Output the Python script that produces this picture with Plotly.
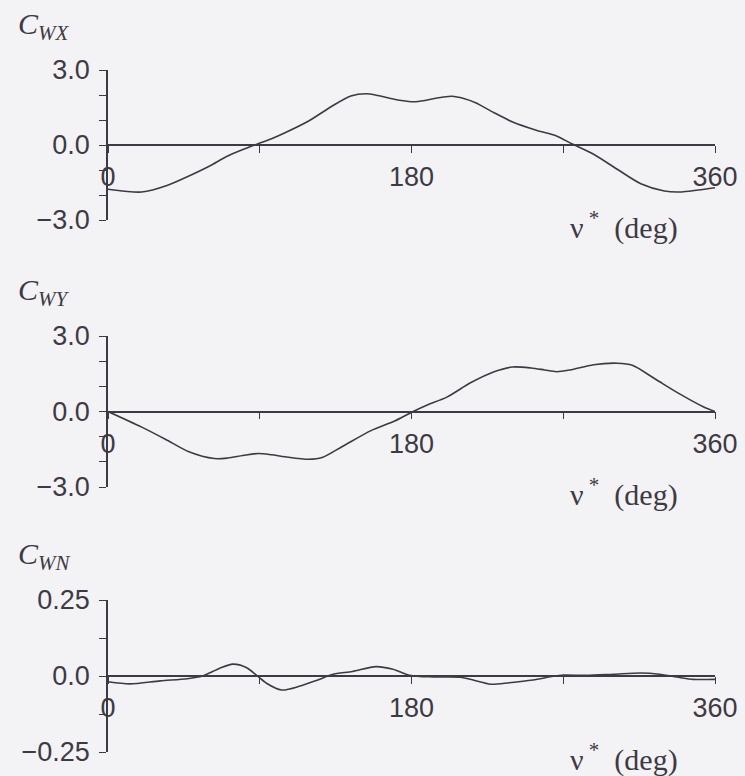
import plotly.graph_objects as go

# ---------------- data ----------------
deg_wx = [0, 10, 20, 35, 48, 60, 71, 80, 89, 97, 105, 119, 133, 144, 153, 160, 167, 174, 181,
          188, 195, 204, 211, 218, 229, 240, 254, 266, 275, 288, 302, 316, 330, 339, 350, 360]
c_wx = [-1.77, -1.85, -1.88, -1.62, -1.24, -0.85, -0.44, -0.18, 0.05, 0.25, 0.49, 0.96, 1.56, 1.96,
        2.05, 1.98, 1.87, 1.78, 1.73, 1.78, 1.88, 1.95, 1.86, 1.69, 1.29, 0.92, 0.59, 0.36, 0.05,
        -0.37, -0.97, -1.55, -1.84, -1.88, -1.80, -1.71]

deg_wy = [0, 20, 34, 48, 63, 71, 80, 89, 97, 105, 119, 127, 139, 156, 170, 181, 189, 201, 215,
          229, 240, 251, 259, 266, 274, 288, 302, 311, 325, 339, 353, 360]
c_wy = [0.0, -0.62, -1.1, -1.6, -1.87, -1.85, -1.75, -1.67, -1.72, -1.80, -1.90, -1.83, -1.39,
        -0.76, -0.38, 0.0, 0.25, 0.57, 1.14, 1.58, 1.77, 1.73, 1.65, 1.58, 1.65, 1.86, 1.92, 1.84,
        1.27, 0.70, 0.19, 0.0]

deg_wn = [0, 13, 31, 47, 56, 66, 74, 82, 88, 94, 103, 114, 124, 133, 145, 159, 169, 179, 193,
          209, 217, 227, 238, 252, 264, 270, 284, 300, 316, 327, 339, 347, 360]
c_wn = [-0.019, -0.026, -0.016, -0.009, 0.0, 0.025, 0.039, 0.028, 0.003, -0.024, -0.046, -0.033,
        -0.014, 0.005, 0.015, 0.031, 0.022, 0.002, -0.003, -0.004, -0.014, -0.027, -0.022, -0.013,
        -0.001, 0.003, 0.002, 0.006, 0.010, 0.006, -0.005, -0.011, -0.011]

x_tickvals = [0, 180, 360]
x_ticktext = ["0", "180", "360"]
y_ticks_big = [-3, 0, 3]
y_text_big = ["\u22123.0", "0.0", "3.0"]
y_ticks_small = [-0.25, 0, 0.25]
y_text_small = ["\u22120.25", "0.0", "0.25"]
panel_titles = ["C<sub>WX</sub>", "C<sub>WY</sub>", "C<sub>WN</sub>"]

# ---------------- layout geometry ----------------
W, H = 745, 776
BG = "#f3f2f5"
INK = "#3e3a44"
x_dom = [108 / W, 715 / W]
# (top px, bottom px) of each panel's plot area
panels_px = [(70, 220), (336, 487), (600, 752)]
y_doms = [[1 - b / H, 1 - t / H] for t, b in panels_px]

series = [(deg_wx, c_wx, [-3, 3], y_ticks_big, y_text_big, 1.0),
          (deg_wy, c_wy, [-3, 3], y_ticks_big, y_text_big, 1.0),
          (deg_wn, c_wn, [-0.25, 0.25], y_ticks_small, y_text_small, 0.125)]

fig = go.Figure()
tick_font = dict(family="Liberation Sans, Arial, sans-serif", size=27, color=INK)
annotations = []
for i, (xs, ys, yr, ytv, ytt, ydt) in enumerate(series):
    n = "" if i == 0 else str(i + 1)
    fig.add_trace(go.Scatter(x=xs, y=ys, mode="lines",
                             line=dict(color=INK, width=1.6, shape="spline", smoothing=0.8),
                             xaxis="x" + n, yaxis="y" + n, showlegend=False,
                             hoverinfo="skip"))
    dom = y_doms[i]
    zero_pos = (dom[0] + dom[1]) / 2
    fig.layout["xaxis" + n] = dict(
        domain=x_dom, range=[0, 360], anchor="free", position=zero_pos, automargin=False,
        showline=True, linecolor=INK, linewidth=1.5, showgrid=False, zeroline=False,
        tickmode="array", tickvals=x_tickvals, ticktext=x_ticktext,
        ticks="outside", ticklen=7, tickwidth=1.3, tickcolor=INK,
        minor=dict(tick0=0, dtick=90, ticks="outside", ticklen=7, tickwidth=1.3, tickcolor=INK,
                   showgrid=False),
        tickfont=tick_font, ticklabelstandoff=1,
    )
    fig.layout["yaxis" + n] = dict(
        domain=dom, range=yr, anchor="x" + n, automargin=False,
        showline=True, linecolor=INK, linewidth=1.5, showgrid=False, zeroline=False,
        tickmode="array", tickvals=ytv, ticktext=ytt,
        ticks="outside", ticklen=7, tickwidth=1.3, tickcolor=INK,
        minor=dict(tick0=0, dtick=ydt, ticks="outside", ticklen=7, tickwidth=1.3, tickcolor=INK,
                   showgrid=False),
        tickfont=tick_font, ticklabelstandoff=4,
    )
    top_px, bot_px = panels_px[i]
    # panel title (coefficient name)
    annotations.append(dict(
        text="<i>" + panel_titles[i] + "</i>", xref="paper", yref="paper",
        x=16 / W, y=1 - (top_px - 44) / H, xanchor="left", yanchor="middle", showarrow=False,
        font=dict(family="Liberation Serif, Times New Roman, serif", size=30, color=INK)))
    # x-axis label
    annotations.append(dict(
        text="\u03bd<sup> *</sup>  (deg)", xref="paper", yref="paper",
        x=568 / W, y=1 - (bot_px + 5) / H, xanchor="left", yanchor="middle", showarrow=False,
        font=dict(family="Liberation Serif, Times New Roman, serif", size=30, color=INK)))

fig.update_layout(
    width=W, height=H, margin=dict(l=0, r=0, t=0, b=0, autoexpand=False),
    paper_bgcolor=BG, plot_bgcolor=BG,
    annotations=annotations,
)

fig.write_html("out.html")
